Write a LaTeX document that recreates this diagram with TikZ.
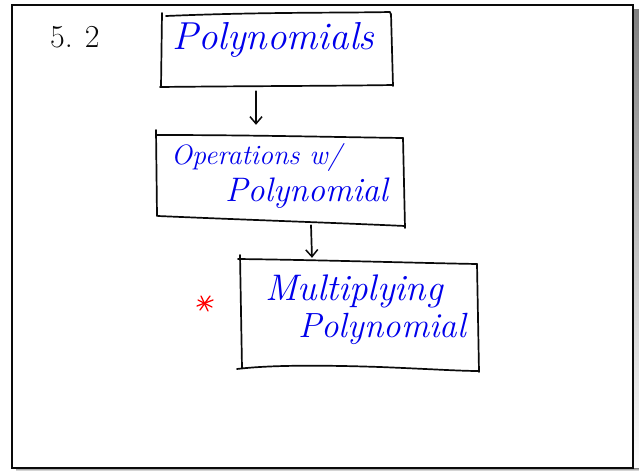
\documentclass[tikz,border=0pt]{standalone}
\usetikzlibrary{arrows.meta,calc}
\definecolor{ink}{RGB}{0,0,235}
\definecolor{pen}{RGB}{10,10,10}
\definecolor{shade}{RGB}{110,110,110}
\tikzset{
  stroke/.style={draw=pen, line width=1.7pt, line cap=round, line join=round},
  hand/.style={text=ink, font=\itshape, inner sep=0pt, anchor=west},
  holder/.style={draw=none, inner sep=0pt},
  flow/.style={stroke, -{Straight Barb[length=7pt,width=12pt,line width=1.5pt]}},
  redmark/.style={draw=red, line width=1.3pt, line cap=round}
}
\begin{document}
\begin{tikzpicture}[x=1pt,y=-1pt]
\useasboundingbox (0,0) rectangle (639,471);
\fill[white] (0,0) rectangle (639,471);
% page shadow and frame
\fill[shade] (633,9) rectangle (639,471);
\fill[shade] (16,468) rectangle (639,471);
\draw[draw=pen, line width=2pt] (12,5) rectangle (633,468);

% named placeholders for the three boxes
\node[holder, minimum width=232pt, minimum height=74pt] (b1) at (277,50) {};
\node[holder, minimum width=248pt, minimum height=88pt] (b2) at (280,178) {};
\node[holder, minimum width=238pt, minimum height=110pt] (b3) at (359,314) {};

% hand-drawn outlines
\draw[stroke] (166,16) .. controls (260,12) and (340,13) .. (390,12) -- (391,15);
\draw[stroke] (162,13) -- (161,87);
\draw[stroke] (160,87) .. controls (250,86) and (330,86) .. (393,85);
\draw[stroke] (391,14) -- (393,86);

\draw[stroke] (156,130) -- (157,216);
\draw[stroke] (157,135) .. controls (250,135) and (330,137) .. (403,138);
\draw[stroke] (403,138) -- (405,228);
\draw[stroke] (158,216) .. controls (250,220) and (340,223) .. (405,226);

\draw[stroke] (240,255) -- (242,368);
\draw[stroke] (238,259) .. controls (320,260) and (420,263) .. (477,264);
\draw[stroke] (477,264) -- (479,372);
\draw[stroke] (237,369) .. controls (270,365) and (320,365) .. (380,367) .. controls (430,369) and (460,371) .. (479,371);

% connectors
\draw[flow] ([xshift=-21pt,yshift=-4pt]b1.south) -- ([xshift=-24pt,yshift=9pt]b2.north);
\draw[flow] ([xshift=31pt,yshift=-3pt]b2.south) -- ([xshift=-47pt,yshift=1pt]b3.north);

% labels
\node[text=pen, font=\fontsize{32}{34}\selectfont, inner sep=0pt, anchor=west] (num) at (50,37) {5.\kern12pt 2};
\node[hand, font=\itshape\fontsize{39}{42}\selectfont] (t1) at (172,40) {Polynomials};
\node[hand, font=\itshape\fontsize{28}{30}\selectfont] (t2a) at (171,157) {Operations w/};
\node[hand, font=\itshape\fontsize{34}{36}\selectfont] (t2b) at (225,193) {Polynomial};
\node[hand, font=\itshape\fontsize{37}{40}\selectfont] (t3a) at (265,291) {Multiplying};
\node[hand, font=\itshape\fontsize{35}{38}\selectfont] (t3b) at (298,329) {Polynomial};

% red mark
\coordinate (star) at (205,303);
\draw[redmark] ($(star)+(-8,3)$) -- ($(star)+(8,-3)$);
\draw[redmark] ($(star)+(-4,-7)$) -- ($(star)+(3,8)$);
\draw[redmark] ($(star)+(5,-7)$) -- ($(star)+(-5,7)$);
\draw[redmark] ($(star)+(-7,-3)$) -- ($(star)+(7,4)$);
\end{tikzpicture}
\end{document}
